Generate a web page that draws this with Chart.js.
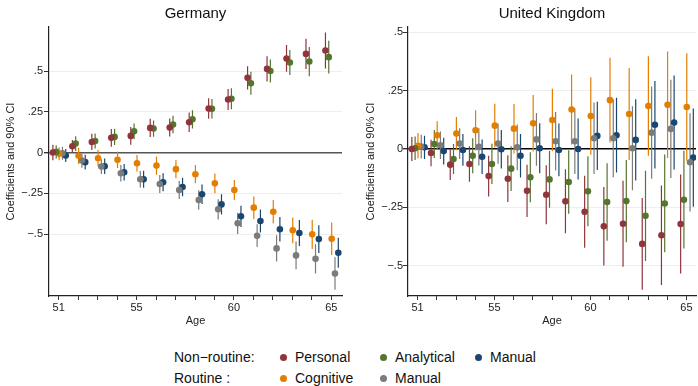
<!DOCTYPE html>
<html>
<head>
<meta charset="utf-8">
<script src="https://cdn.jsdelivr.net/npm/chart.js@4.4.0/dist/chart.umd.min.js"></script>
<style>
  html, body { margin: 0; padding: 0; background: #fff; overflow: hidden; }
  #wrap { position: relative; width: 698px; height: 386px; overflow: hidden; }
  #de { position: absolute; left: 0; top: 0; }
  #uk { position: absolute; left: 350px; top: 0; }
  .lg { position: absolute; font: 14px 'Liberation Sans', Arial, sans-serif; color: #111; line-height: 18px; white-space: nowrap; }
  .dot { position: absolute; width: 7px; height: 7px; border-radius: 50%; }
</style>
</head>
<body>
<div id="wrap">
  <canvas id="de" width="350" height="330"></canvas>
  <canvas id="uk" width="350" height="330"></canvas>
  <div id="legend"></div>
</div>
<script>
// ----- DATI -----
const AGES = [51, 52, 53, 54, 55, 56, 57, 58, 59, 60, 61, 62, 63, 64, 65];
const AGE_LABELS = [51, 55, 60, 65];
const Y_TICKS = [-0.5, -0.25, 0, 0.25, 0.5];

// Germany: coefficienti e semi-ampiezza dell'intervallo al 90%
const DE_PERSONAL = [0.0, 0.039, 0.065, 0.09, 0.102, 0.151, 0.153, 0.186, 0.27, 0.325, 0.458, 0.513, 0.577, 0.605, 0.626];
const DE_PERSONAL_CI = [0.048, 0.038, 0.05, 0.054, 0.054, 0.056, 0.055, 0.06, 0.063, 0.064, 0.072, 0.077, 0.082, 0.093, 0.11];
const DE_ANALYTICAL = [0.004, 0.055, 0.07, 0.096, 0.13, 0.147, 0.172, 0.204, 0.268, 0.33, 0.425, 0.5, 0.552, 0.558, 0.585];
const DE_ANALYTICAL_CI = [0.04, 0.045, 0.046, 0.05, 0.048, 0.05, 0.054, 0.056, 0.06, 0.064, 0.07, 0.07, 0.077, 0.09, 0.1];
const DE_NR_MANUAL = [-0.018, -0.059, -0.084, -0.121, -0.164, -0.182, -0.211, -0.256, -0.318, -0.391, -0.42, -0.471, -0.494, -0.531, -0.615];
const DE_NR_MANUAL_CI = [0.04, 0.045, 0.047, 0.05, 0.052, 0.055, 0.057, 0.06, 0.062, 0.065, 0.07, 0.075, 0.08, 0.085, 0.092];
const DE_COGNITIVE = [-0.008, -0.02, -0.035, -0.045, -0.066, -0.08, -0.102, -0.133, -0.189, -0.23, -0.338, -0.363, -0.477, -0.502, -0.529];
const DE_COGNITIVE_CI = [0.04, 0.05, 0.05, 0.05, 0.051, 0.056, 0.056, 0.056, 0.061, 0.061, 0.069, 0.072, 0.079, 0.089, 0.1];
const DE_R_MANUAL = [-0.005, -0.049, -0.086, -0.127, -0.164, -0.193, -0.23, -0.291, -0.348, -0.434, -0.51, -0.588, -0.631, -0.652, -0.742];
const DE_R_MANUAL_CI = [0.04, 0.045, 0.045, 0.05, 0.05, 0.055, 0.055, 0.06, 0.062, 0.065, 0.07, 0.08, 0.085, 0.09, 0.1];

// United Kingdom
const UK_PERSONAL = [0.0, -0.017, -0.067, -0.064, -0.116, -0.127, -0.179, -0.196, -0.224, -0.269, -0.331, -0.32, -0.406, -0.369, -0.321];
const UK_PERSONAL_CI = [0.051, 0.057, 0.066, 0.076, 0.087, 0.1, 0.112, 0.126, 0.137, 0.154, 0.168, 0.184, 0.196, 0.213, 0.212];
const UK_ANALYTICAL = [0.003, 0.021, -0.043, -0.029, -0.064, -0.084, -0.121, -0.13, -0.141, -0.181, -0.227, -0.223, -0.286, -0.233, -0.217];
const UK_ANALYTICAL_CI = [0.05, 0.06, 0.064, 0.075, 0.086, 0.096, 0.107, 0.121, 0.136, 0.15, 0.166, 0.176, 0.193, 0.209, 0.209];
const UK_NR_MANUAL = [0.007, -0.009, -0.004, -0.033, -0.001, -0.029, 0.003, -0.004, 0.0, 0.056, 0.059, 0.039, 0.104, 0.113, -0.037];
const UK_NR_MANUAL_CI = [0.05, 0.057, 0.068, 0.074, 0.082, 0.093, 0.107, 0.113, 0.131, 0.146, 0.16, 0.174, 0.187, 0.201, 0.21];
const UK_COGNITIVE = [0.014, 0.059, 0.066, 0.08, 0.1, 0.087, 0.11, 0.124, 0.169, 0.141, 0.209, 0.15, 0.184, 0.189, 0.18];
const UK_COGNITIVE_CI = [0.054, 0.06, 0.071, 0.086, 0.094, 0.106, 0.121, 0.134, 0.15, 0.166, 0.181, 0.197, 0.213, 0.228, 0.23];
const UK_R_MANUAL = [0.01, 0.016, 0.023, 0.009, 0.023, 0.007, 0.041, 0.033, 0.033, 0.046, 0.046, 0.003, 0.07, 0.086, -0.057];
const UK_R_MANUAL_CI = [0.051, 0.059, 0.066, 0.08, 0.086, 0.098, 0.113, 0.125, 0.14, 0.153, 0.167, 0.18, 0.197, 0.21, 0.21];

// ----- STILE -----
const FONT = "'Liberation Sans', Arial, Helvetica, sans-serif";
const COLORS = {
  personal: '#90353b',
  analytical: '#55752f',
  nrManual: '#1a476f',
  cognitive: '#e37e00',
  rManual: '#7b7b7b'
};
// spostamento orizzontale di ogni serie attorno all'età
const OFFSETS = { personal: -0.3, analytical: -0.13, cognitive: 0.02, rManual: 0.19, nrManual: 0.36 };

Chart.defaults.font.family = FONT;
Chart.defaults.color = '#222';

function ciSegments(coef, ci, off) {
  const pts = [];
  AGES.forEach((age, i) => {
    pts.push({ x: age + off, y: coef[i] - ci[i] });
    pts.push({ x: age + off, y: coef[i] + ci[i] });
    pts.push({ x: age + off, y: null });
  });
  return pts;
}

function points(coef, off) {
  return AGES.map((age, i) => ({ x: age + off, y: coef[i] }));
}

function buildDatasets(series) {
  const bars = [];
  const dots = [];
  series.forEach(s => {
    const off = OFFSETS[s.key];
    bars.push({
      data: ciSegments(s.coef, s.ci, off),
      showLine: true,
      spanGaps: false,
      borderColor: COLORS[s.key],
      borderWidth: 1.2,
      pointRadius: 0,
      order: 2
    });
    dots.push({
      data: points(s.coef, off),
      backgroundColor: COLORS[s.key],
      borderWidth: 0,
      pointRadius: 3.3,
      order: 1
    });
  });
  return bars.concat(dots);
}

function fmtY(v) {
  if (v === 0) return '0';
  return (v < 0 ? '\u2212' : '') + String(Math.abs(v)).replace(/^0/, '');
}

function makeChart(id, title, series, cfg) {
  return new Chart(document.getElementById(id), {
    type: 'scatter',
    data: { datasets: buildDatasets(series) },
    options: {
      responsive: false,
      animation: false,
      events: [],
      layout: { padding: { left: 0, right: cfg.padRight, top: 0, bottom: 0 } },
      plugins: {
        legend: { display: false },
        tooltip: { enabled: false },
        title: {
          display: true,
          text: title,
          fullSize: false,
          color: '#111',
          font: { size: 15, weight: 'normal' },
          padding: { top: 5, bottom: 4 }
        }
      },
      scales: {
        x: {
          type: 'linear',
          min: 50.5,
          max: cfg.xMax,
          afterBuildTicks: s => { s.ticks = AGES.map(v => ({ value: v })); },
          afterFit: s => { s.height = 34; },
          ticks: {
            autoSkip: false,
            maxRotation: 0,
            padding: 1,
            font: { size: 11 },
            callback: v => AGE_LABELS.includes(v) ? String(v) : ''
          },
          grid: { drawOnChartArea: false, drawTicks: true, tickLength: 4, tickColor: '#333' },
          border: { display: true, color: '#222', width: 1.2 },
          title: { display: true, text: 'Age', font: { size: 11 }, color: '#222', padding: { top: 0, bottom: 2 } }
        },
        y: {
          min: cfg.yMin,
          max: cfg.yMax,
          afterBuildTicks: s => { s.ticks = Y_TICKS.map(v => ({ value: v })); },
          afterFit: s => { s.width = cfg.yWidth; },
          ticks: { padding: cfg.tickPad, font: { size: 11 }, callback: fmtY },
          grid: {
            tickLength: 5,
            tickColor: '#333',
            color: c => c.tick && c.tick.value === 0 ? cfg.zeroColor : '#eeeeee',
            lineWidth: c => c.tick && c.tick.value === 0 ? 1.4 : 1
          },
          border: { display: true, color: '#222', width: 1.2 },
          title: {
            display: true,
            text: 'Coefficients and 90% CI',
            font: { size: 11 },
            color: '#222',
            padding: { top: cfg.titlePad, bottom: 0 }
          }
        }
      }
    }
  });
}

makeChart('de', 'Germany', [
  { key: 'personal', coef: DE_PERSONAL, ci: DE_PERSONAL_CI },
  { key: 'analytical', coef: DE_ANALYTICAL, ci: DE_ANALYTICAL_CI },
  { key: 'cognitive', coef: DE_COGNITIVE, ci: DE_COGNITIVE_CI },
  { key: 'rManual', coef: DE_R_MANUAL, ci: DE_R_MANUAL_CI },
  { key: 'nrManual', coef: DE_NR_MANUAL, ci: DE_NR_MANUAL_CI }
], { yMin: -0.88, yMax: 0.77, xMax: 65.55, yWidth: 49, tickPad: 1, titlePad: 4.5, padRight: 8, zeroColor: '#555' });

makeChart('uk', 'United Kingdom', [
  { key: 'personal', coef: UK_PERSONAL, ci: UK_PERSONAL_CI },
  { key: 'analytical', coef: UK_ANALYTICAL, ci: UK_ANALYTICAL_CI },
  { key: 'cognitive', coef: UK_COGNITIVE, ci: UK_COGNITIVE_CI },
  { key: 'rManual', coef: UK_R_MANUAL, ci: UK_R_MANUAL_CI },
  { key: 'nrManual', coef: UK_NR_MANUAL, ci: UK_NR_MANUAL_CI }
], { yMin: -0.629, yMax: 0.522, xMax: 65.5, yWidth: 58, tickPad: 0, titlePad: 14, padRight: 1, zeroColor: '#000' });

// ----- LEGENDA -----
const LEGEND_ROWS = [
  { label: 'Non\u2212routine:', y: 357, items: [['Personal', 'personal'], ['Analytical', 'analytical'], ['Manual', 'nrManual']] },
  { label: 'Routine :', y: 378, items: [['Cognitive', 'cognitive'], ['Manual', 'rManual']] }
];
const LEGEND_COLS = [283, 383, 478];
const legendEl = document.getElementById('legend');
LEGEND_ROWS.forEach(row => {
  const lab = document.createElement('div');
  lab.className = 'lg';
  lab.style.left = '174px';
  lab.style.top = (row.y - 9) + 'px';
  lab.textContent = row.label;
  legendEl.appendChild(lab);
  row.items.forEach(([text, key], i) => {
    const dot = document.createElement('div');
    dot.className = 'dot';
    dot.style.background = COLORS[key];
    dot.style.left = (LEGEND_COLS[i] - 3.5) + 'px';
    dot.style.top = (row.y - 3.5) + 'px';
    legendEl.appendChild(dot);
    const t = document.createElement('div');
    t.className = 'lg';
    t.style.left = (LEGEND_COLS[i] + 12) + 'px';
    t.style.top = (row.y - 9) + 'px';
    t.textContent = text;
    legendEl.appendChild(t);
  });
});
</script>
</body>
</html>
